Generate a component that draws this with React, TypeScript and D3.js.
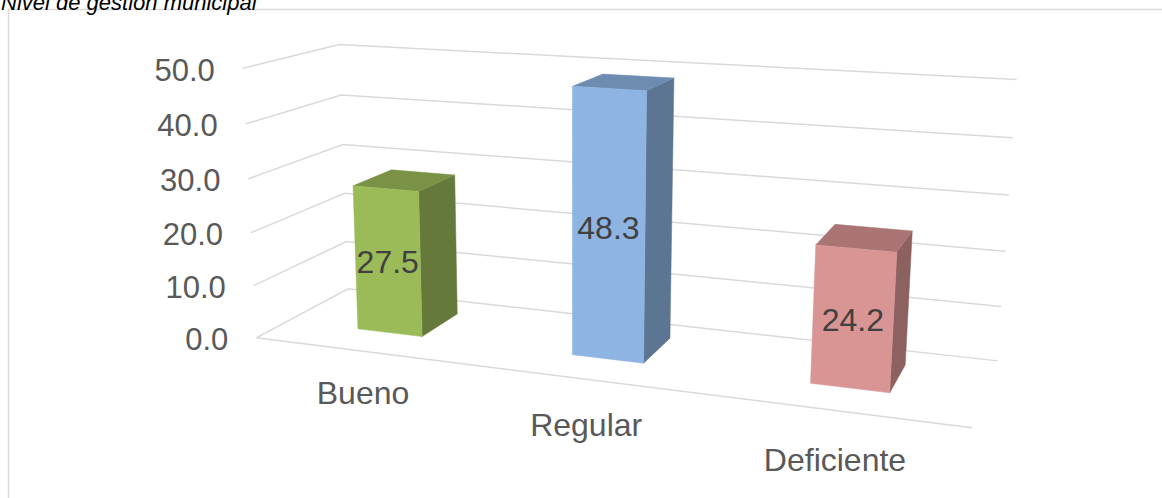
import React, { useMemo } from "react";
import * as d3 from "d3";

const categories = ["Bueno", "Regular", "Deficiente"];
const values = [27.5, 48.3, 24.2];
const barColors = ["#9BBB59", "#8DB4E2", "#D99594"];
const yTicks = [0, 10, 20, 30, 40, 50];
const title = "Nivel de gestión municipal";

const W = 1162;
const H = 498;

// box corners of the 3d frame as seen on screen: [x, y, z (0..1), px, py]
const frameAnchors: number[][] = [
  [0, 0, 0, 258, 337], [0, 0.2, 0, 255, 285], [0, 0.4, 0, 252, 232],
  [0, 0.6, 0, 249, 179], [0, 0.8, 0, 244, 124], [0, 1, 0, 240, 69],
  [0, 0, 1, 345, 291], [0, 0.6, 1, 343, 144], [0, 0.8, 1, 342, 94], [0, 1, 1, 342, 45],
  [1, 0, 1, 998, 360], [1, 0.2, 1, 1001, 306], [1, 0.4, 1, 1005, 251],
  [1, 0.6, 1, 1009, 195], [1, 0.8, 1, 1013, 138], [1, 1, 1, 1016, 80],
  [1, 0, 0, 972, 429],
];

const barFront = 0.33;
const barBack = 0.77;

function fitCamera(anchors: number[][]) {
  const rows: number[][] = [];
  const rhs: number[] = [];
  for (const [X, Y, Z, u0, v0] of anchors) {
    const u = (u0 - 600) / 400;
    const v = (v0 - 250) / 400;
    rows.push([X, Y, Z, 1, 0, 0, 0, 0, -u * X, -u * Y, -u * Z]);
    rhs.push(u);
    rows.push([0, 0, 0, 0, X, Y, Z, 1, -v * X, -v * Y, -v * Z]);
    rhs.push(v);
  }
  const n = 11;
  const M = Array.from({ length: n }, () => new Array(n + 1).fill(0));
  rows.forEach((r, k) => {
    for (let i = 0; i < n; i++) {
      for (let j = 0; j < n; j++) M[i][j] += r[i] * r[j];
      M[i][n] += r[i] * rhs[k];
    }
  });
  for (let c = 0; c < n; c++) {
    let p = c;
    for (let r = c + 1; r < n; r++) if (Math.abs(M[r][c]) > Math.abs(M[p][c])) p = r;
    [M[c], M[p]] = [M[p], M[c]];
    for (let r = 0; r < n; r++) {
      if (r === c) continue;
      const f = M[r][c] / M[c][c];
      for (let k = c; k <= n; k++) M[r][k] -= f * M[c][k];
    }
  }
  return M.map((r, i) => r[n] / r[i]);
}

export default function App() {
  const p = useMemo(() => fitCamera(frameAnchors), []);

  const project = (X: number, Y: number, Z: number): [number, number] => {
    const den = p[8] * X + p[9] * Y + p[10] * Z + 1;
    const u = (p[0] * X + p[1] * Y + p[2] * Z + p[3]) / den;
    const v = (p[4] * X + p[5] * Y + p[6] * Z + p[7]) / den;
    return [u * 400 + 600, v * 400 + 250];
  };

  const yScale = d3.scaleLinear().domain([0, 50]).range([0, 1]);
  const xBand = d3.scaleBand().domain(categories).range([0, 1]).paddingInner(0.69).paddingOuter(0.345);
  const bw = xBand.bandwidth();

  const line = d3.line();
  const poly = (pts: [number, number, number][]) =>
    line(pts.map(([a, b, c]) => project(a, b, c)))! + "Z";

  const fmt = d3.format(".1f");

  // category labels follow the projected spacing of the categories
  const projX = categories.map((c) => project(xBand(c)! + bw / 2, 0, 0)[0]);
  const labelX = d3.scaleLinear().domain([projX[0], projX[2]]).range([363, 835]);
  const labelY = d3.scaleLinear().domain([projX[0], projX[2]]).range([393, 460]);

  return (
    <svg width={W} height={H} style={{ position: "absolute", left: 0, top: 0, background: "#fff" }}
      fontFamily="'Liberation Sans', Arial, sans-serif">
      <rect x={8.5} y={9.5} width={W + 20} height={H + 20} fill="none" stroke="#D9D9D9" strokeWidth={1.5} />
      <text x={1} y={10} fontSize={22} fontStyle="italic" fill="#000">{title}</text>

      {/* gridlines on side and back walls */}
      {yTicks.map((t) => {
        const y = yScale(t);
        const pts = [project(0, y, 0), project(0, y, 1), project(1, y, 1)];
        return <path key={t} d={line(pts)!} fill="none" stroke="#D9D9D9" strokeWidth={1.5} />;
      })}
      <path d={line([project(0, 0, 0), project(1, 0, 0)])!} fill="none" stroke="#D9D9D9" strokeWidth={1.5} />

      {yTicks.map((t) => {
        const [x, y] = project(0, yScale(t), 0);
        return (
          <text key={t} x={x - 28} y={y + 2} textAnchor="end" dominantBaseline="central"
            fontSize={31} fill="#595959">{fmt(t)}</text>
        );
      })}

      {categories.map((c, i) => {
        const x0 = xBand(c)!;
        const x1 = x0 + bw;
        const y1 = yScale(values[i]);
        const z0 = barFront, z1 = barBack;
        const base = d3.color(barColors[i])!;
        const top = base.darker(0.7).formatHex();
        const side = base.darker(1.2).formatHex();
        const [lx, ly] = project(x0 + bw / 2, y1 / 2, z0);
        return (
          <g key={c}>
            <path d={poly([[x1, 0, z0], [x1, 0, z1], [x1, y1, z1], [x1, y1, z0]])} fill={side} stroke={side} strokeWidth={0.5} />
            <path d={poly([[x0, y1, z0], [x1, y1, z0], [x1, y1, z1], [x0, y1, z1]])} fill={top} stroke={top} strokeWidth={0.5} />
            <path d={poly([[x0, 0, z0], [x1, 0, z0], [x1, y1, z0], [x0, y1, z0]])} fill={barColors[i]} stroke={barColors[i]} strokeWidth={0.5} />
            <text x={lx} y={ly + 1} textAnchor="middle" dominantBaseline="central" fontSize={32} fill="#404040">
              {fmt(values[i])}
            </text>
          </g>
        );
      })}

      {categories.map((c, i) => (
        <text key={c} x={labelX(projX[i])} y={labelY(projX[i])} textAnchor="middle" dominantBaseline="central"
          fontSize={32} fill="#595959">{c}</text>
      ))}
    </svg>
  );
}
